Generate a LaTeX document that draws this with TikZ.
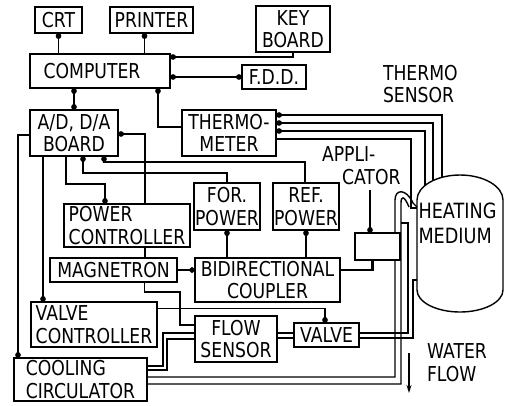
\documentclass[tikz,border=0pt]{standalone}
\usepackage{fontspec}
\setmainfont{DejaVu Sans}[FakeStretch=0.84]
\usetikzlibrary{arrows.meta}
\begin{document}
\begin{tikzpicture}[x=1pt,y=-1pt, line width=1.4pt,
  font=\fontsize{20.5}{22.5}\selectfont,
  box/.style={draw, line width=1.4pt, inner sep=0pt, outer sep=0pt, align=center},
  lbl/.style={inner sep=0pt, outer sep=0pt, anchor=north west, align=left},
  dotend/.style={-{Circle[length=6pt,width=5.5pt]}},
  dotstart/.style={{Circle[length=6pt,width=5.5pt]}-},
  dotboth/.style={{Circle[length=6pt,width=5.5pt]}-{Circle[length=6pt,width=5.5pt]}},
  thick line/.style={line width=2.6pt}]
\useasboundingbox (0,0) rectangle (505,405);

% boxes
\node[box, minimum width=47pt, minimum height=26pt] (crt) at (58.5,20) {CRT};
\node[box, minimum width=83pt, minimum height=26pt] (printer) at (151.5,20) {PRINTER};
\node[box, minimum width=74pt, minimum height=46pt] (keyb) at (293,29) {KEY\\BOARD};
\node[box, minimum width=140pt, minimum height=34pt] (comp) at (100,71) {COMPUTER\hspace*{16pt}};
\node[box, minimum width=64pt, minimum height=24pt] (fdd) at (274,77) {F.D.D.};
\node[box, minimum width=88pt, minimum height=46pt] (adda) at (74,133) {A/D, D/A\\BOARD};
\node[box, minimum width=94pt, minimum height=46pt] (thermo) at (229,133) {THERMO-\\METER};
\node[box, minimum width=66pt, minimum height=47pt] (forp) at (227,206.5) {FOR.\\POWER};
\node[box, minimum width=66pt, minimum height=47pt] (refp) at (306,206.5) {REF.\\POWER};
\node[box, align=left, minimum width=126pt, minimum height=43pt] (pc) at (127,225.5) {POWER\\CONTROLLER};
\node[box, minimum width=127pt, minimum height=24pt] (mag) at (113.5,270) {MAGNETRON};
\node[box, minimum width=145pt, minimum height=44pt] (coup) at (267.5,280) {BIDIRECTIONAL\\COUPLER};
\node[box, align=left, minimum width=126pt, minimum height=45pt] (vc) at (94,324.5) {VALVE\\CONTROLLER};
\node[box, minimum width=82pt, minimum height=46pt] (fs) at (236,339) {FLOW\\SENSOR};
\node[box, minimum width=65pt, minimum height=24pt] (valve) at (326.5,335) {VALVE};
\node[box, align=left, minimum width=133pt, minimum height=43pt] (cc) at (80.5,379.5) {COOLING\\CIRCULATOR};

% free labels
\node[lbl] (tslab) at (383,65) {THERMO\\SENSOR};
\node[lbl] (applab) at (322,147) {APPLI-\\\hspace*{20pt}CATOR};
\node[lbl] (wflab) at (427,344) {WATER\\FLOW};

% heating medium vessel
\draw (417,200) -- (417,290) .. controls (417,302.1) and (436.3,312) .. (460,312)
  .. controls (483.7,312) and (503,302.1) .. (503,290) -- (503,200)
  .. controls (503,186.2) and (483.7,175) .. (460,175)
  .. controls (436.3,175) and (417,186.2) .. (417,200) -- cycle;
\node[lbl, font=\fontsize{21}{25}\selectfont] (heat) at (418.5,203) {HEATING\\MEDIUM};
\coordinate (s1) at (442,177.3);
\coordinate (s2) at (433,180.5);
\coordinate (s3) at (425,185.5);
\coordinate (s4) at (417,208);
\coordinate (v1) at (417,207);
\coordinate (v2) at (417,280);
\coordinate (wf1) at (409,353);
\coordinate (wf2) at (409,393);

% computer periphery
\draw[dotend] (comp.north -| crt.south) -- (crt.south);
\draw[dotend] ([xshift=-7pt,yshift=-21pt]printer.south) -- ([xshift=-7pt]printer.south);
\draw[dotend] (keyb.south) |- ([yshift=-3pt]comp.north east);
\draw[dotboth] (comp.east |- fdd.west) -- (fdd.west);
\draw[dotboth] (adda.north |- comp.south) -- (adda.north);
\draw[dotend] ([yshift=6pt]thermo.west) -| ([xshift=58pt]comp.south);

% thermo sensors
\draw[dotstart] ([yshift=18pt]thermo.east) -| (s1);
\draw[dotstart] ([yshift=10pt]thermo.east) -| (s2);
\draw[dotstart] ([yshift=2pt]thermo.east) -| (s3);
\draw ([yshift=-6pt]thermo.east) -| (411,208) -- (s4);

% A/D board links
\draw[dotend] ([yshift=-2pt]adda.west) -| ([xshift=4pt]cc.north west);
\draw[dotend] ([xshift=-31pt]adda.south) -- ([xshift=-51pt]vc.north);
\draw[dotend] ([xshift=-8pt]adda.south) |- ([xshift=-22pt,yshift=20pt]pc.north) -- ([xshift=-22pt]pc.north);
\draw[dotend] ([xshift=18pt]pc.north) |- ([yshift=-1pt]adda.east);
\draw[dotend] (forp.north) |- ([xshift=9pt,yshift=-17pt]adda.south) -- ([xshift=9pt]adda.south);
\draw[dotend] ([xshift=-1pt]refp.north) |- ([xshift=30pt,yshift=-6pt]adda.south) -- ([xshift=30pt]adda.south);

% microwave chain
\draw ([xshift=18pt]pc.south) -- ++(0,11);
\draw[dotend, thick line] (mag.east) -- (mag.east -| coup.west);
\draw[dotend] (coup.north -| forp.south) -- (forp.south);
\draw[dotend] (coup.north -| refp.south) -- (refp.south);

% water circuit
\draw ([xshift=31pt]mag.south) |- ([xshift=-15pt,yshift=47pt]fs.west) |- ([yshift=14pt]fs.west);
\draw[dotend] ([yshift=16pt]vc.east) -| ([xshift=-1.5pt]valve.north);
\draw ([yshift=6pt]fs.west) -- ++(-32,0) |- ([yshift=13.5pt]cc.east);
\draw (fs.west) -- ++(-28,0) |- ([yshift=9.5pt]cc.east);
\draw ([yshift=2pt]valve.west) -- ++(-17,0);
\draw ([yshift=-3pt]valve.west) -- ++(-17,0);
\draw ([yshift=2pt]valve.east) -| (408,223) -- (401,223);
\draw ([yshift=-3pt]valve.east) -| (413,280) -- (v2);
\draw ([yshift=2.5pt]cc.east) -| (395,200) .. controls (395,189) and (406,188) .. (413,203) -- (v1);
\draw ([yshift=-4.5pt]cc.east) -| (401,203) .. controls (401,196) and (404,195) .. (409,207);
\draw[-{Stealth[length=8pt,width=5pt]}] (wf1) -- (wf2);

% applicator
\node[box, fill=white, minimum width=45pt, minimum height=27pt] (appl) at (377.5,246.5) {};
\draw[thick line] ([yshift=10pt]coup.east) -| ([xshift=-5pt]appl.south);
\draw[dotend] ([xshift=-7.5pt,yshift=43pt]appl.north) -- ([xshift=-7.5pt]appl.north);
\end{tikzpicture}
\end{document}
